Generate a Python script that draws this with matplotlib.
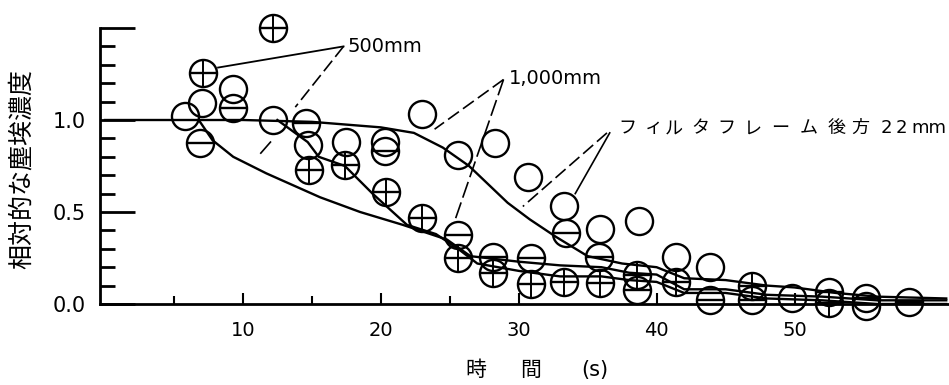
import numpy as np
import matplotlib
matplotlib.use("Agg")
import matplotlib.pyplot as plt
from matplotlib.transforms import offset_copy

plt.rcParams['font.family'] = ['DejaVu Sans', 'Noto Sans CJK JP']

# --- data ---
# circles with a cross inside
plus_x = [7.1, 12.2, 14.8, 17.4, 20.4, 23.0, 25.6, 28.1, 30.9, 33.3, 35.9, 38.6, 41.4, 46.9, 52.5]
plus_y = [1.255, 1.50, 0.73, 0.755, 0.61, 0.47, 0.25, 0.17, 0.11, 0.12, 0.115, 0.16, 0.12, 0.10, 0.005]
# circles with a bar inside
bar_x = [6.9, 9.3, 14.6, 20.3, 25.6, 28.1, 30.9, 33.4, 35.8, 38.6, 43.9, 46.9, 52.5, 55.2, 58.3]
bar_y = [0.875, 1.065, 0.985, 0.83, 0.375, 0.255, 0.25, 0.385, 0.255, 0.075, 0.02, 0.02, 0.065, 0.03, 0.01]
# plain circles
open_x = [5.8, 7.0, 9.3, 12.2, 14.7, 17.5, 20.3, 23.0, 25.6, 28.3, 30.7, 33.3, 35.9, 38.7, 41.4, 43.9, 49.8, 55.2]
open_y = [1.02, 1.09, 1.17, 1.0, 0.865, 0.88, 0.88, 1.03, 0.81, 0.875, 0.69, 0.53, 0.41, 0.45, 0.255, 0.2, 0.03, -0.01]

# fitted curves (vertices)
c22_x = [0, 10, 15, 20, 22.4, 24.5, 26.4, 29.2, 30.8, 32.7, 35.0, 37.5, 40, 42, 45, 48, 50, 53, 56, 61]
c22_y = [1.0, 1.0, 0.99, 0.96, 0.93, 0.85, 0.75, 0.55, 0.46, 0.365, 0.26, 0.22, 0.2, 0.14, 0.13, 0.10, 0.09, 0.06, 0.04, 0.03]
c500_x = [6.8, 7.8, 9.3, 11.7, 15.6, 18.5, 21.6, 24.8, 26.5, 30, 33, 36, 38, 40, 42, 45, 48, 52, 56, 61]
c500_y = [1.0, 0.89, 0.80, 0.71, 0.58, 0.5, 0.43, 0.35, 0.26, 0.23, 0.21, 0.2, 0.17, 0.16, 0.08, 0.08, 0.05, 0.04, 0.02, 0.02]
c1000_x = [12.5, 14.7, 15.5, 17.4, 19.4, 21.9, 24.0, 25.6, 27.0, 30, 33, 36, 38, 40, 42, 45, 48, 52, 56, 61]
c1000_y = [1.0, 0.88, 0.80, 0.75, 0.60, 0.43, 0.38, 0.30, 0.22, 0.18, 0.15, 0.15, 0.13, 0.12, 0.06, 0.06, 0.03, 0.02, 0.0, 0.0]

yticks_major = [0.0, 0.5, 1.0]
xticks_major = [10, 20, 30, 40, 50]
label_22 = ['フ', 'ィ', 'ル', 'タ', 'フ', 'レ', 'ー', 'ム', '後', '方', '2', '2', 'mm']

fig = plt.figure(figsize=(9.49, 3.85), dpi=100)
ax = fig.add_axes([100 / 949, 81 / 385, 849 / 949, 276 / 385])

lw = 1.7
ax.plot(c22_x, c22_y, color='black', lw=lw)
ax.plot(c500_x, c500_y, color='black', lw=lw)
ax.plot(c1000_x, c1000_y, color='black', lw=lw)

ms = 19.5
for xs, ys in [(plus_x, plus_y), (bar_x, bar_y), (open_x, open_y)]:
    ax.plot(xs, ys, 'o', ms=ms, mfc='none', mec='black', mew=1.7, clip_on=False)
ax.plot(plus_x + bar_x, plus_y + bar_y, '_', ms=ms * 0.95, mec='black', mew=1.7, clip_on=False)
ax.plot(plus_x, plus_y, '|', ms=ms * 0.95, mec='black', mew=1.4, clip_on=False)

# leader lines and labels
ax.text(17.6, 1.40, '500mm', fontsize=14, va='center', ha='left')
ax.plot([17.3, 8.2], [1.40, 1.285], color='black', lw=1.3)
ax.plot([17.3, 13.8], [1.40, 1.07], color='black', lw=1.2, ls=(0, (8, 3)))
ax.plot([12.0, 11.3], [0.88, 0.82], color='black', lw=1.2)

ax.text(29.3, 1.225, '1,000mm', fontsize=14, va='center', ha='left')
ax.plot([28.9, 23.9], [1.22, 0.95], color='black', lw=1.2, ls=(0, (8, 3)))
ax.plot([28.9, 25.4], [1.22, 0.46], color='black', lw=1.2, ls=(0, (10, 3)))

# wide-spaced label, one glyph at a time
steps = [0, 19.1, 33.5, 52.5, 71.5, 90.5, 110, 131, 151, 168, 189, 200, 211]
for ch, dx in zip(label_22, steps):
    tr = offset_copy(ax.transData, fig=fig, x=dx, y=0, units='points')
    ax.text(37.2, 0.955, ch, fontsize=13, va='center', ha='left', transform=tr)
ax.plot([36.4, 30.3], [0.93, 0.53], color='black', lw=1.2, ls=(0, (8, 3)))
ax.plot([36.6, 34.1], [0.93, 0.60], color='black', lw=1.2)

ax.set_xlim(-0.36, 61.2)
ax.set_ylim(0, 1.5)
for s in ['top', 'right']:
    ax.spines[s].set_visible(False)
ax.spines['left'].set_linewidth(2)
ax.spines['bottom'].set_linewidth(2)

ax.set_xticks(xticks_major)
ax.set_xticks([5, 15, 25], minor=True)
ax.set_yticks(np.arange(0.1, 1.5, 0.1), minor=True)
ax.set_yticks(yticks_major + [1.5])
ax.set_yticklabels(['0.0', '0.5', '1.0', ''])
ax.tick_params(axis='y', which='major', direction='in', length=25, width=2, labelsize=15, pad=10)
ax.tick_params(axis='y', which='minor', direction='in', length=11, width=2)
ax.tick_params(axis='x', which='major', direction='in', length=8, width=1.5, labelsize=14, pad=12)
ax.tick_params(axis='x', which='minor', direction='in', length=6, width=1.5)

ax.set_ylabel('相対的な塵埃濃度', fontsize=18, labelpad=4)
ax.yaxis.set_label_coords(-0.078, 0.49)
fig.text(476 / 949, 15 / 385, '時', fontsize=15, ha='center', va='center')
fig.text(531 / 949, 15 / 385, '間', fontsize=15, ha='center', va='center')
fig.text(595 / 949, 15 / 385, '(s)', fontsize=15, ha='center', va='center')

fig.savefig('out.png', dpi=100)
